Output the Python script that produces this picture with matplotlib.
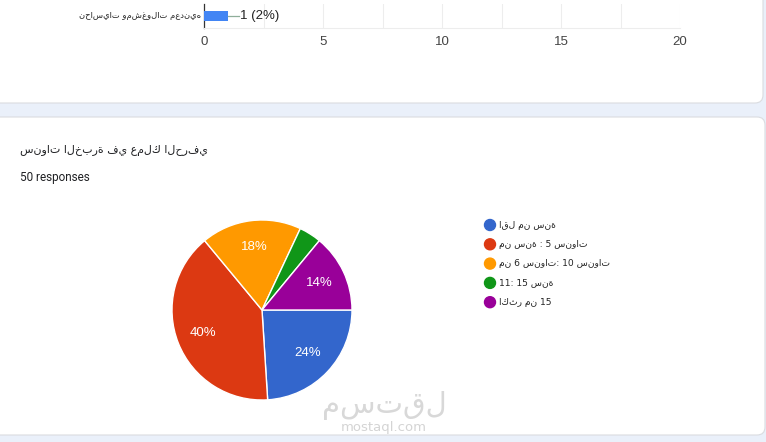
import numpy as np
import matplotlib
matplotlib.use('Agg')
from matplotlib import pyplot as plt
from matplotlib.patches import FancyBboxPatch, Circle

W, H = 766, 442

# data
bar_labels = ['نحاسيات ومشغولات معدنيه']
bar_counts = [1]
bar_total = 50
bar_ticks = [0, 5, 10, 15, 20]

pie_title = 'سنوات الخبرة في عملك الحرفي'
pie_responses = '50 responses'
pie_labels = ['اقل من سنة', 'من سنة : 5 سنوات', 'من 6 سنوات: 10 سنوات',
              '11: 15 سنة', 'اكثر من 15']
pie_counts = [12, 20, 9, 2, 7]
pie_colors = ['#3366cc', '#dc3912', '#ff9900', '#109618', '#990099']

LRM = '\u200e'
AR = ['DejaVu Sans']


def words_ltr(text):
    # the reference lays the arabic words out left to right
    return LRM + (LRM + ' ' + LRM).join(text.split(' ')) + LRM


plt.rcParams['font.family'] = ['Liberation Sans', 'DejaVu Sans']

fig = plt.figure(figsize=(W / 100, H / 100), dpi=100)
fig.patch.set_facecolor('#eaf0fa')

bg = fig.add_axes([0, 0, 1, 1])
bg.set_xlim(0, W)
bg.set_ylim(H, 0)
bg.axis('off')

# cards
bg.add_patch(FancyBboxPatch((-20, -30), 783, 133, boxstyle='round,pad=0,rounding_size=8',
                            fc='white', ec='#dadce0', lw=0.8))
bg.add_patch(FancyBboxPatch((-20, 117), 785, 318, boxstyle='round,pad=0,rounding_size=8',
                            fc='white', ec='#dadce0', lw=0.8))


def px_axes(x0, y0, x1, y1):
    return fig.add_axes([x0 / W, 1 - y1 / H, (x1 - x0) / W, (y1 - y0) / H])


# bar chart fragment
axb = px_axes(204, 4, 680, 28)
axb.barh([0], bar_counts, height=1.0, color='#4285f4', zorder=3)
axb.set_xlim(0, 20)
axb.set_ylim(-1.2, 1.2)
axb.set_xticks(np.arange(0, 20.1, 2.5), minor=True)
axb.set_xticks(bar_ticks)
axb.grid(True, axis='x', which='both', color='#ededed', lw=0.8, zorder=0)
axb.tick_params(axis='x', which='both', length=0, pad=6, labelsize=9.5, labelcolor='#444444')
axb.set_yticks([])
for s in ['top', 'right']:
    axb.spines[s].set_visible(False)
axb.spines['bottom'].set_color('#ededed')
axb.spines['left'].set_color('#333333')
axb.spines['left'].set_linewidth(0.9)
for i, c in enumerate(bar_counts):
    axb.plot([c, c + 0.45], [i, i], color='#8fae9a', lw=0.9, zorder=3)
    axb.text(c + 0.5, i, f'{c} ({c / bar_total:.0%})', va='center', ha='left',
             fontsize=9.5, color='#222222')
    axb.text(-0.1, i, bar_labels[i], va='center', ha='right',
             fontsize=6.0, color='#222222', family=AR)

# pie card
bg.text(20, 150, words_ltr(pie_title), ha='left', va='center', fontsize=7.9,
        color='#202124', family=AR)
bg.text(20, 178, pie_responses, ha='left', va='center', fontsize=8.5, color='#202124',
        family=['Roboto', 'DejaVu Sans'])

axp = px_axes(172, 220, 352, 400)
wedges, texts, autotexts = axp.pie(
    pie_counts, colors=pie_colors, startangle=0, counterclock=False,
    autopct=lambda p: f'{p:.0f}%' if p >= 5 else '', pctdistance=0.7,
    wedgeprops=dict(edgecolor='white', linewidth=1.0),
    textprops=dict(color='white', fontsize=9.5))
axp.set_xlim(-1, 1)
axp.set_ylim(-1, 1)
axp.set_aspect('equal')

# legend
for i, (lab, col) in enumerate(zip(pie_labels, pie_colors)):
    y = 225 + i * 19.3
    bg.add_patch(Circle((490, y), 5.5, color=col))
    bg.text(499, y, words_ltr(lab), ha='left', va='center', fontsize=6.6,
            color='#222222', family=AR)

# watermark
bg.text(384, 405, 'مستقل', ha='center', va='center', fontsize=21,
        color='#d8d8d8', family=AR)
bg.text(384, 427, 'mostaql.com', ha='center', va='center', fontsize=9.5,
        color='#d4d4d4', family=AR)

fig.savefig('out.png', dpi=100, facecolor=fig.get_facecolor())
